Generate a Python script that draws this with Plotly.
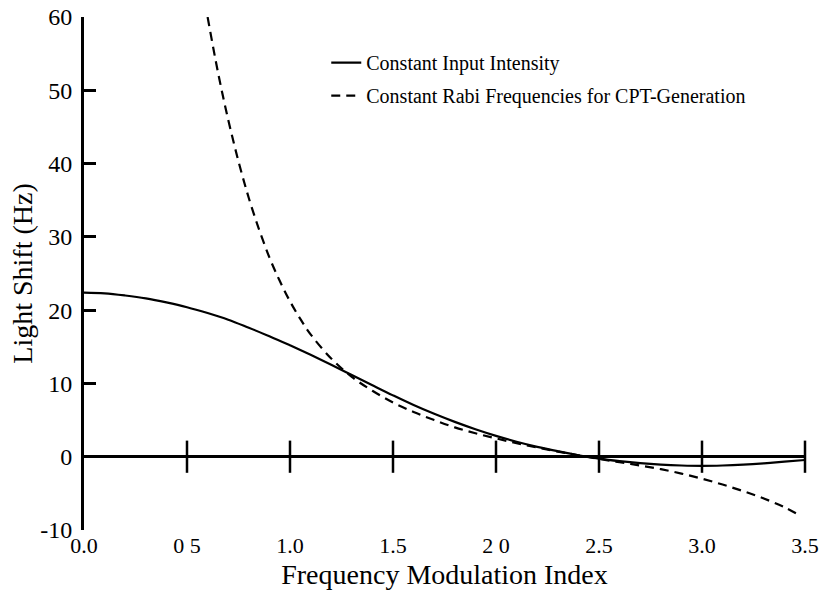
import plotly.graph_objects as go

# Solid curve: constant input intensity
x_int = [0.0, 0.1, 0.2, 0.3, 0.4, 0.5, 0.6, 0.7, 0.8, 0.9, 1.0, 1.1, 1.2, 1.3, 1.4, 1.5,
         1.6, 1.7, 1.8, 1.9, 2.0, 2.1, 2.2, 2.3, 2.4, 2.5, 2.6, 2.7, 2.8, 2.9, 3.0,
         3.1, 3.2, 3.3, 3.4, 3.5]
y_int = [22.4, 22.3, 22.0, 21.6, 21.05, 20.4, 19.6, 18.7, 17.6, 16.45, 15.2, 13.9, 12.55, 11.15, 9.75, 8.37,
         7.05, 5.85, 4.75, 3.75, 2.85, 2.05, 1.35, 0.75, 0.2, -0.25, -0.6, -0.88, -1.08, -1.2, -1.25,
         -1.2, -1.08, -0.9, -0.68, -0.45]

# Dashed curve: constant Rabi frequencies for CPT generation
x_rabi = [0.6, 0.65, 0.7, 0.75, 0.8, 0.85, 0.9, 0.95, 1.0, 1.05, 1.1, 1.2, 1.3, 1.4, 1.5, 1.6, 1.7,
          1.8, 1.9, 2.0, 2.1, 2.2, 2.3, 2.4, 2.5, 2.6, 2.7, 2.8, 2.9, 3.0, 3.1, 3.2, 3.3,
          3.4, 3.48]
y_rabi = [60.0, 52.5, 46.0, 40.3, 35.3, 31.0, 27.2, 24.0, 21.2, 18.8, 16.7, 13.4, 10.9, 9.0, 7.4, 6.1, 5.0,
          4.0, 3.2, 2.5, 1.85, 1.25, 0.7, 0.2, -0.3, -0.75, -1.2, -1.7, -2.3, -3.0, -3.8, -4.7, -5.7,
          -6.9, -8.1]

x_ticks = [0.0, 0.5, 1.0, 1.5, 2.0, 2.5, 3.0, 3.5]
x_tick_labels = ["0.0", "0 5", "1.0", "1.5", "2 0", "2.5", "3.0", "3.5"]
y_ticks = [-10, 0, 10, 20, 30, 40, 50, 60]
y_tick_labels = ["-10", "0", "10", "20", "30", "40", "50", "60"]

FONT = "Liberation Serif, Times New Roman, serif"

fig = go.Figure()

# tick marks crossing the zero line
fig.add_trace(go.Scatter(
    x=x_ticks[1:], y=[0] * (len(x_ticks) - 1), mode="markers",
    marker=dict(symbol="line-ns", size=23, line=dict(width=2.5, color="black")),
    showlegend=False, hoverinfo="skip", cliponaxis=False))

fig.add_trace(go.Scatter(
    x=x_int, y=y_int, mode="lines", name="Constant Input Intensity", legendgroup="a",
    line=dict(color="black", width=2.2, shape="spline")))
fig.add_trace(go.Scatter(
    x=x_rabi, y=y_rabi, mode="lines", name="Constant Rabi Frequencies for CPT-Generation",
    legendgroup="b",
    line=dict(color="black", width=2.2, dash="9px,6px", shape="spline")))

fig.update_layout(
    width=824, height=599,
    margin=dict(l=84, r=19, t=17, b=69),
    paper_bgcolor="white", plot_bgcolor="white",
    font=dict(family=FONT, color="black", size=20),
    showlegend=True,
    legend=dict(x=0.336, y=0.949, xanchor="left", yanchor="top",
                bgcolor="rgba(0,0,0,0)", font=dict(size=20, family=FONT),
                tracegroupgap=4, itemwidth=30),
    xaxis=dict(range=[0, 3.5], tickmode="array", tickvals=x_ticks, ticktext=x_tick_labels,
               showgrid=False, zeroline=False, showline=False, ticks="",
               tickfont=dict(size=22), ticklabelstandoff=0, automargin=False,
               title=dict(text="Frequency Modulation Index", font=dict(size=28), standoff=7)),
    yaxis=dict(range=[-10, 60], tickmode="array", tickvals=y_ticks, ticktext=y_tick_labels,
               showgrid=False, zeroline=True, zerolinecolor="black", zerolinewidth=3,
               showline=True, linecolor="black", linewidth=3,
               ticks="inside", ticklen=12, tickwidth=2.5, tickcolor="black",
               tickfont=dict(size=24), ticklabelstandoff=4, automargin=False,
               title=dict(text="Light Shift (Hz)", font=dict(size=28), standoff=0)),
)

fig.write_html("out.html", post_script="document.body.style.margin='0';",
               config={"displayModeBar": False})
